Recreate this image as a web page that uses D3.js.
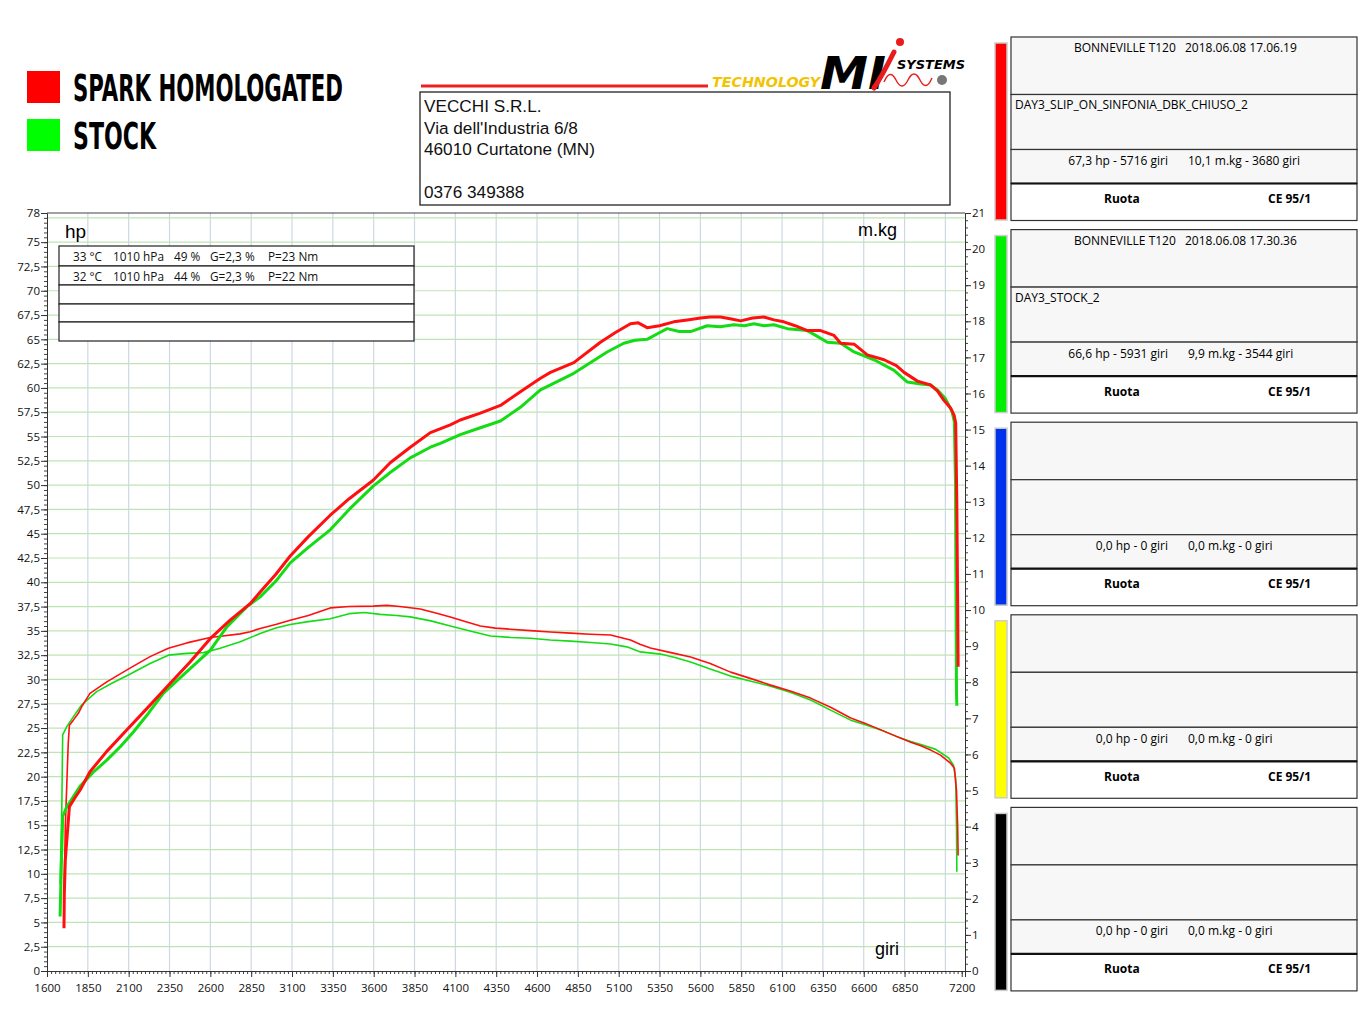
<!DOCTYPE html>
<html>
<head>
<meta charset="utf-8">
<script src="https://d3js.org/d3.v7.min.js"></script>
<style>
body { margin: 0; background: #fff; }
</style>
</head>
<body>
<script>
// ---- data ----
// spark homologated (red) power, hp
var redHpRpm = [1704, 1706, 1712, 1737, 1770, 1802, 1863, 1966, 2088, 2211, 2343, 2476, 2599, 2721, 2844, 2905, 3000, 3089, 3200, 3334, 3450, 3597, 3701, 3824, 3947, 4069, 4130, 4253, 4376, 4498, 4621, 4682, 4825, 4988, 5080, 5172, 5220, 5274, 5350, 5437, 5520, 5601, 5660, 5723, 5790, 5846, 5920, 5989, 6050, 6111, 6180, 6255, 6336, 6418, 6459, 6541, 6622, 6724, 6800, 6847, 6929, 7010, 7051, 7092, 7133, 7153, 7163, 7170, 7175, 7178];
var redHp = [4.4, 8, 11.4, 16.9, 17.8, 18.6, 20.5, 22.6, 24.8, 27.0, 29.4, 31.8, 34.2, 36.1, 37.8, 39.0, 40.8, 42.7, 44.7, 46.9, 48.6, 50.5, 52.3, 53.9, 55.4, 56.2, 56.7, 57.4, 58.2, 59.6, 61.0, 61.6, 62.6, 64.7, 65.7, 66.6, 66.7, 66.2, 66.4, 66.8, 67.0, 67.2, 67.3, 67.3, 67.1, 66.9, 67.2, 67.3, 67.0, 66.8, 66.4, 65.9, 65.9, 65.4, 64.6, 64.5, 63.4, 62.9, 62.3, 61.6, 60.7, 60.3, 59.7, 58.7, 57.9, 57.2, 56.4, 48, 38, 31.3];

// stock (green) power, hp
var greenHpRpm = [1680, 1688, 1696, 1721, 1760, 1802, 1880, 1966, 2050, 2129, 2220, 2313, 2456, 2599, 2701, 2824, 2905, 3000, 3089, 3200, 3334, 3450, 3597, 3701, 3824, 3947, 4008, 4130, 4253, 4376, 4498, 4621, 4825, 5029, 5131, 5200, 5274, 5340, 5397, 5470, 5540, 5642, 5720, 5805, 5870, 5928, 5990, 6050, 6132, 6255, 6316, 6377, 6459, 6541, 6663, 6786, 6867, 6950, 7010, 7050, 7100, 7140, 7155, 7162, 7166, 7168, 7170];
var greenHp = [5.6, 11, 15.9, 16.9, 17.9, 19.0, 20.4, 21.7, 23.1, 24.6, 26.5, 28.6, 30.8, 33.0, 35.4, 37.5, 38.5, 40.1, 42.0, 43.6, 45.4, 47.5, 49.9, 51.3, 52.8, 53.9, 54.3, 55.2, 55.9, 56.6, 58.0, 59.8, 61.5, 63.7, 64.6, 64.9, 65.0, 65.6, 66.1, 65.8, 65.8, 66.4, 66.3, 66.5, 66.4, 66.6, 66.4, 66.5, 66.1, 65.9, 65.3, 64.7, 64.6, 63.7, 62.9, 61.8, 60.6, 60.4, 60.3, 59.8, 58.9, 57.6, 56.5, 50, 35, 28.5, 27.3];

// spark homologated (red) torque, m.kg
var redKgRpm = [1704, 1712, 1730, 1737, 1761, 1792, 1812, 1863, 1966, 2108, 2231, 2343, 2456, 2599, 2783, 2844, 2905, 3000, 3089, 3200, 3334, 3450, 3597, 3680, 3760, 3885, 3980, 4069, 4160, 4253, 4345, 4437, 4560, 4682, 4805, 4927, 5050, 5172, 5230, 5294, 5420, 5540, 5660, 5785, 5910, 6030, 6150, 6275, 6400, 6520, 6610, 6704, 6800, 6888, 6950, 7010, 7070, 7133, 7155, 7168, 7175, 7178];
var redKg = [1.9, 4.0, 6.3, 6.81, 6.95, 7.14, 7.32, 7.69, 8.01, 8.39, 8.71, 8.94, 9.09, 9.24, 9.34, 9.40, 9.49, 9.60, 9.72, 9.85, 10.06, 10.10, 10.11, 10.13, 10.10, 10.03, 9.92, 9.81, 9.68, 9.56, 9.50, 9.47, 9.43, 9.39, 9.36, 9.33, 9.31, 9.17, 9.05, 8.95, 8.82, 8.70, 8.52, 8.28, 8.10, 7.92, 7.76, 7.56, 7.30, 7.01, 6.86, 6.68, 6.50, 6.34, 6.24, 6.12, 5.98, 5.75, 5.62, 5.0, 4.0, 3.2];

// stock (green) torque, m.kg
var greenKgRpm = [1680, 1690, 1696, 1721, 1761, 1812, 1904, 2000, 2098, 2231, 2343, 2456, 2558, 2660, 2783, 2905, 3000, 3089, 3200, 3334, 3450, 3544, 3640, 3740, 3824, 3950, 4069, 4190, 4314, 4440, 4559, 4680, 4804, 4930, 5049, 5150, 5233, 5356, 5450, 5540, 5660, 5785, 5910, 6030, 6150, 6275, 6400, 6520, 6610, 6704, 6800, 6888, 6960, 7041, 7120, 7150, 7163, 7168, 7170];
var greenKg = [2.4, 4.3, 6.54, 6.77, 7.04, 7.37, 7.74, 7.98, 8.20, 8.52, 8.75, 8.80, 8.82, 8.94, 9.12, 9.35, 9.50, 9.60, 9.68, 9.76, 9.90, 9.93, 9.88, 9.85, 9.81, 9.70, 9.56, 9.42, 9.28, 9.24, 9.22, 9.17, 9.14, 9.10, 9.06, 8.98, 8.84, 8.78, 8.68, 8.56, 8.37, 8.17, 8.03, 7.89, 7.72, 7.51, 7.22, 6.95, 6.82, 6.68, 6.50, 6.36, 6.26, 6.14, 5.90, 5.70, 5.3, 4.0, 2.75];

// tick labels
var rpmLabels = [1600, 1850, 2100, 2350, 2600, 2850, 3100, 3350, 3600, 3850, 4100, 4350, 4600, 4850, 5100, 5350, 5600, 5850, 6100, 6350, 6600, 6850, 7200];
var rpmGrid = [1850, 2100, 2350, 2600, 2850, 3100, 3350, 3600, 3850, 4100, 4350, 4600, 4850, 5100, 5350, 5600, 5850, 6100, 6350, 6600, 6850, 7100];
var hpLabels = [0, 2.5, 5, 7.5, 10, 12.5, 15, 17.5, 20, 22.5, 25, 27.5, 30, 32.5, 35, 37.5, 40, 42.5, 45, 47.5, 50, 52.5, 55, 57.5, 60, 62.5, 65, 67.5, 70, 72.5, 75, 78];
var kgLabels = [0, 1, 2, 3, 4, 5, 6, 7, 8, 9, 10, 11, 12, 13, 14, 15, 16, 17, 18, 19, 20, 21];

// legend / info
var legendNames = ["SPARK HOMOLOGATED", "STOCK"];
var legendColors = ["#ff0000", "#00ff00"];
var addressLines = ["VECCHI S.R.L.", "Via dell'Industria 6/8", "46010 Curtatone (MN)", "", "0376 349388"];
var conditions = [
  ["33 °C", "1010 hPa", "49 %", "G=2,3 %", "P=23 Nm"],
  ["32 °C", "1010 hPa", "44 %", "G=2,3 %", "P=22 Nm"],
  [], [], []
];
var runModels = ["BONNEVILLE T120", "BONNEVILLE T120", "", "", ""];
var runDates = ["2018.06.08 17.06.19", "2018.06.08 17.30.36", "", "", ""];
var runNames = ["DAY3_SLIP_ON_SINFONIA_DBK_CHIUSO_2", "DAY3_STOCK_2", "", "", ""];
var runPower = ["67,3 hp - 5716 giri", "66,6 hp - 5931 giri", "0,0 hp - 0 giri", "0,0 hp - 0 giri", "0,0 hp - 0 giri"];
var runTorque = ["10,1 m.kg - 3680 giri", "9,9 m.kg - 3544 giri", "0,0 m.kg - 0 giri", "0,0 m.kg - 0 giri", "0,0 m.kg - 0 giri"];
var runColors = ["#ff0000", "#00ee00", "#0033ee", "#ffff00", "#000000"];

var lineRed = "#ff0f0f", lineGreen = "#14dc14";

// ---- page ----
var W = 1371, H = 1028;
var plot = {left: 47, right: 965, top: 213, bottom: 971};

var svg = d3.select("body").append("svg")
  .attr("width", W)
  .attr("height", H);

var x = d3.scaleLinear().domain([1600, 7220]).range([plot.left, plot.right]);
var yHp = d3.scaleLinear().domain([0, 78]).range([plot.bottom, plot.top]);
var yKg = d3.scaleLinear().domain([0, 21]).range([plot.bottom, plot.top]);

var comma = function(d) { return String(d).replace(".", ","); };

// grid
svg.append("g").selectAll("line")
  .data(rpmGrid)
  .enter().append("line")
  .attr("x1", function(d) { return x(d); })
  .attr("x2", function(d) { return x(d); })
  .attr("y1", plot.top)
  .attr("y2", plot.bottom)
  .attr("stroke", "#cdd8e3")
  .attr("stroke-width", 1.2);

svg.append("g").selectAll("line")
  .data(d3.range(1, 32).map(function(i) { return i * 2.5; }))
  .enter().append("line")
  .attr("x1", plot.left)
  .attr("x2", plot.right)
  .attr("y1", function(d) { return yHp(d); })
  .attr("y2", function(d) { return yHp(d); })
  .attr("stroke", "#bfe4b4")
  .attr("stroke-width", 1.2);

// top frame line
svg.append("line")
  .attr("x1", plot.left).attr("x2", plot.right)
  .attr("y1", plot.top).attr("y2", plot.top)
  .attr("stroke", "#444").attr("stroke-width", 1.2);

// axes
function styleAxis(g) {
  g.selectAll("path").attr("stroke", "#333");
  g.selectAll("line").attr("stroke", "#333");
  g.selectAll("text")
    .attr("font-family", "'Open Sans', sans-serif")
    .attr("font-size", "11.5px")
    .attr("fill", "#111");
}
function minorAxis(g) {
  g.select(".domain").remove();
  g.selectAll("line").attr("stroke", "#444");
}

svg.append("g")
  .attr("transform", "translate(" + plot.left + ",0)")
  .call(d3.axisLeft(yHp).tickValues(d3.range(0, 157).map(function(i) { return i / 2; })).tickSize(3).tickFormat(""))
  .call(minorAxis);
svg.append("g")
  .attr("transform", "translate(" + plot.left + ",0)")
  .call(d3.axisLeft(yHp).tickValues(hpLabels).tickSize(6).tickPadding(1).tickFormat(comma))
  .call(styleAxis);

svg.append("g")
  .attr("transform", "translate(" + plot.right + ",0)")
  .call(d3.axisRight(yKg).tickValues(d3.range(0, 106).map(function(i) { return i / 5; })).tickSize(3).tickFormat(""))
  .call(minorAxis);
svg.append("g")
  .attr("transform", "translate(" + plot.right + ",0)")
  .call(d3.axisRight(yKg).tickValues(kgLabels).tickSize(6).tickPadding(1))
  .call(styleAxis);

svg.append("g")
  .attr("transform", "translate(0," + plot.bottom + ")")
  .call(d3.axisBottom(x).tickValues(d3.range(1600, 7201, 25)).tickSize(3).tickFormat(""))
  .call(minorAxis);
svg.append("g")
  .attr("transform", "translate(0," + plot.bottom + ")")
  .call(d3.axisBottom(x).tickValues(rpmLabels).tickSize(6).tickPadding(7).tickFormat(d3.format("d")))
  .call(styleAxis);

// axis unit labels
svg.append("text").attr("x", 65).attr("y", 238).text("hp")
  .attr("font-family", "'Liberation Sans', Arial, sans-serif").attr("font-size", "19px");
svg.append("text").attr("x", 858).attr("y", 236).text("m.kg")
  .attr("font-family", "'Liberation Sans', Arial, sans-serif").attr("font-size", "18px");
svg.append("text").attr("x", 875).attr("y", 955).text("giri")
  .attr("font-family", "'Liberation Sans', Arial, sans-serif").attr("font-size", "18px");

// conditions table
var cond = svg.append("g");
var condRows = [246, 266, 285, 304, 322];
cond.selectAll("rect")
  .data(condRows)
  .enter().append("rect")
  .attr("x", 59).attr("width", 355)
  .attr("y", function(d) { return d; })
  .attr("height", function(d, i) { return (i < 4 ? condRows[i + 1] : 341) - d; })
  .attr("fill", "#fff").attr("stroke", "#222").attr("stroke-width", 1.2);
var condX = [73, 113, 174, 210, 268];
conditions.forEach(function(row, i) {
  cond.selectAll(null)
    .data(row)
    .enter().append("text")
    .attr("x", function(d, j) { return condX[j]; })
    .attr("y", condRows[i] + 15)
    .attr("font-family", "'Open Sans', sans-serif")
    .attr("font-size", "11.8px")
    .attr("fill", "#111")
    .text(function(d) { return d; });
});

// curves
var line = d3.line()
  .x(function(d) { return x(d[0]); })
  .y(function(d) { return d[1]; });

function drawCurve(rpm, vals, scale, color, width) {
  svg.append("path")
    .datum(rpm.map(function(r, i) { return [r, scale(vals[i])]; }))
    .attr("fill", "none")
    .attr("stroke", color)
    .attr("stroke-width", width)
    .attr("stroke-linejoin", "round")
    .attr("d", line);
}

drawCurve(greenKgRpm, greenKg, yKg, lineGreen, 1.6);
drawCurve(redKgRpm, redKg, yKg, lineRed, 1.6);
drawCurve(greenHpRpm, greenHp, yHp, lineGreen, 3);
drawCurve(redHpRpm, redHp, yHp, lineRed, 3);

// legend (condensed heavy type: narrow font stretched vertically)
var legend = svg.append("g");
legendNames.forEach(function(name, i) {
  legend.append("rect")
    .attr("x", 27).attr("y", 71 + i * 48)
    .attr("width", 33).attr("height", 32)
    .attr("fill", legendColors[i]);
  legend.append("text")
    .attr("transform", "translate(73," + (101 + i * 48) + ") scale(1,1.42)")
    .attr("font-family", "'DejaVu Sans Condensed', 'DejaVu Sans', sans-serif")
    .attr("font-weight", "bold")
    .attr("font-size", "26px")
    .attr("textLength", i === 0 ? 270 : 83)
    .attr("lengthAdjust", "spacingAndGlyphs")
    .attr("fill", "#000")
    .text(name);
});

// logo
var logo = svg.append("g");
logo.append("line")
  .attr("x1", 421).attr("x2", 708).attr("y1", 86).attr("y2", 86)
  .attr("stroke", "#ee2020").attr("stroke-width", 3);
logo.append("text")
  .attr("x", 712).attr("y", 87)
  .attr("font-family", "'DejaVu Sans', sans-serif").attr("font-weight", "bold")
  .attr("font-style", "italic").attr("font-size", "14px")
  .attr("textLength", 108).attr("lengthAdjust", "spacingAndGlyphs")
  .attr("fill", "#f3c300").text("TECHNOLOGY");
logo.append("text")
  .attr("x", 820).attr("y", 89)
  .attr("font-family", "'DejaVu Sans', sans-serif").attr("font-weight", "bold")
  .attr("font-style", "italic").attr("font-size", "44px")
  .attr("textLength", 66).attr("lengthAdjust", "spacingAndGlyphs")
  .attr("fill", "#000").text("MI");
logo.append("path")
  .attr("d", "M874,88 C882,76 889,62 894,52")
  .attr("fill", "none").attr("stroke", "#e81c1c").attr("stroke-width", 5).attr("stroke-linecap", "round");
logo.append("circle").attr("cx", 900).attr("cy", 42).attr("r", 4).attr("fill", "#e81c1c");
logo.append("text")
  .attr("x", 897).attr("y", 69)
  .attr("font-family", "'DejaVu Sans', sans-serif").attr("font-weight", "bold")
  .attr("font-style", "italic").attr("font-size", "13px")
  .attr("textLength", 68).attr("lengthAdjust", "spacingAndGlyphs")
  .attr("fill", "#000").text("SYSTEMS");
logo.append("path")
  .attr("d", "M884,82 Q890,68 896,80 T908,80 T920,80 T932,78")
  .attr("fill", "none").attr("stroke", "#e81c1c").attr("stroke-width", 1.4);
logo.append("circle").attr("cx", 942).attr("cy", 80).attr("r", 5).attr("fill", "#777");

// address box
var addr = svg.append("g");
addr.append("rect")
  .attr("x", 420).attr("y", 92).attr("width", 530).attr("height", 113)
  .attr("fill", "#fff").attr("stroke", "#222").attr("stroke-width", 1.3);
addr.selectAll("text")
  .data(addressLines.map(function(t, i) { return {t: t, i: i}; }).filter(function(d) { return d.t !== ""; }))
  .enter().append("text")
  .attr("x", 424)
  .attr("y", function(d) { return 112 + d.i * 21.6; })
  .attr("font-family", "'Liberation Sans', Arial, sans-serif")
  .attr("font-size", "17.2px")
  .attr("fill", "#111")
  .text(function(d) { return d.t; });

// run panels on the right
var panelX = 1011, panelW = 346;
runNames.forEach(function(name, i) {
  var top = 37 + i * 192.6;
  var g = svg.append("g");
  // colour bar
  g.append("rect")
    .attr("x", 995).attr("y", top + 6).attr("width", 12).attr("height", 177)
    .attr("fill", runColors[i]).attr("stroke", "#ccc").attr("stroke-width", 1.5);
  // rows
  var rows = [0, 57.5, 112.5, 146.5, 183.5];
  for (var r = 0; r < 4; r++) {
    g.append("rect")
      .attr("x", panelX).attr("y", top + rows[r])
      .attr("width", panelW).attr("height", rows[r + 1] - rows[r])
      .attr("fill", r < 3 ? "#f7f7f7" : "#fff")
      .attr("stroke", "#333").attr("stroke-width", 1.2);
  }
  g.append("line")
    .attr("x1", panelX).attr("x2", panelX + panelW)
    .attr("y1", top + rows[3]).attr("y2", top + rows[3])
    .attr("stroke", "#111").attr("stroke-width", 2.2);

  var font = "'Open Sans', sans-serif", fs = "12px";
  if (runModels[i]) {
    g.append("text").attr("x", 1074).attr("y", top + 15)
      .attr("font-family", font).attr("font-size", fs).text(runModels[i]);
    g.append("text").attr("x", 1185).attr("y", top + 15)
      .attr("font-family", font).attr("font-size", fs).text(runDates[i]);
  }
  if (name) {
    g.append("text").attr("x", 1015).attr("y", top + 72)
      .attr("font-family", font).attr("font-size", fs).text(name);
  }
  g.append("text").attr("x", 1168).attr("y", top + 128).attr("text-anchor", "end")
    .attr("font-family", font).attr("font-size", fs).text(runPower[i]);
  g.append("text").attr("x", 1188).attr("y", top + 128)
    .attr("font-family", font).attr("font-size", fs).text(runTorque[i]);
  g.append("text").attr("x", 1104).attr("y", top + 166)
    .attr("font-family", font).attr("font-size", fs).attr("font-weight", "bold").text("Ruota");
  g.append("text").attr("x", 1268).attr("y", top + 166)
    .attr("font-family", font).attr("font-size", fs).attr("font-weight", "bold").text("CE 95/1");
});
</script>
</body>
</html>
